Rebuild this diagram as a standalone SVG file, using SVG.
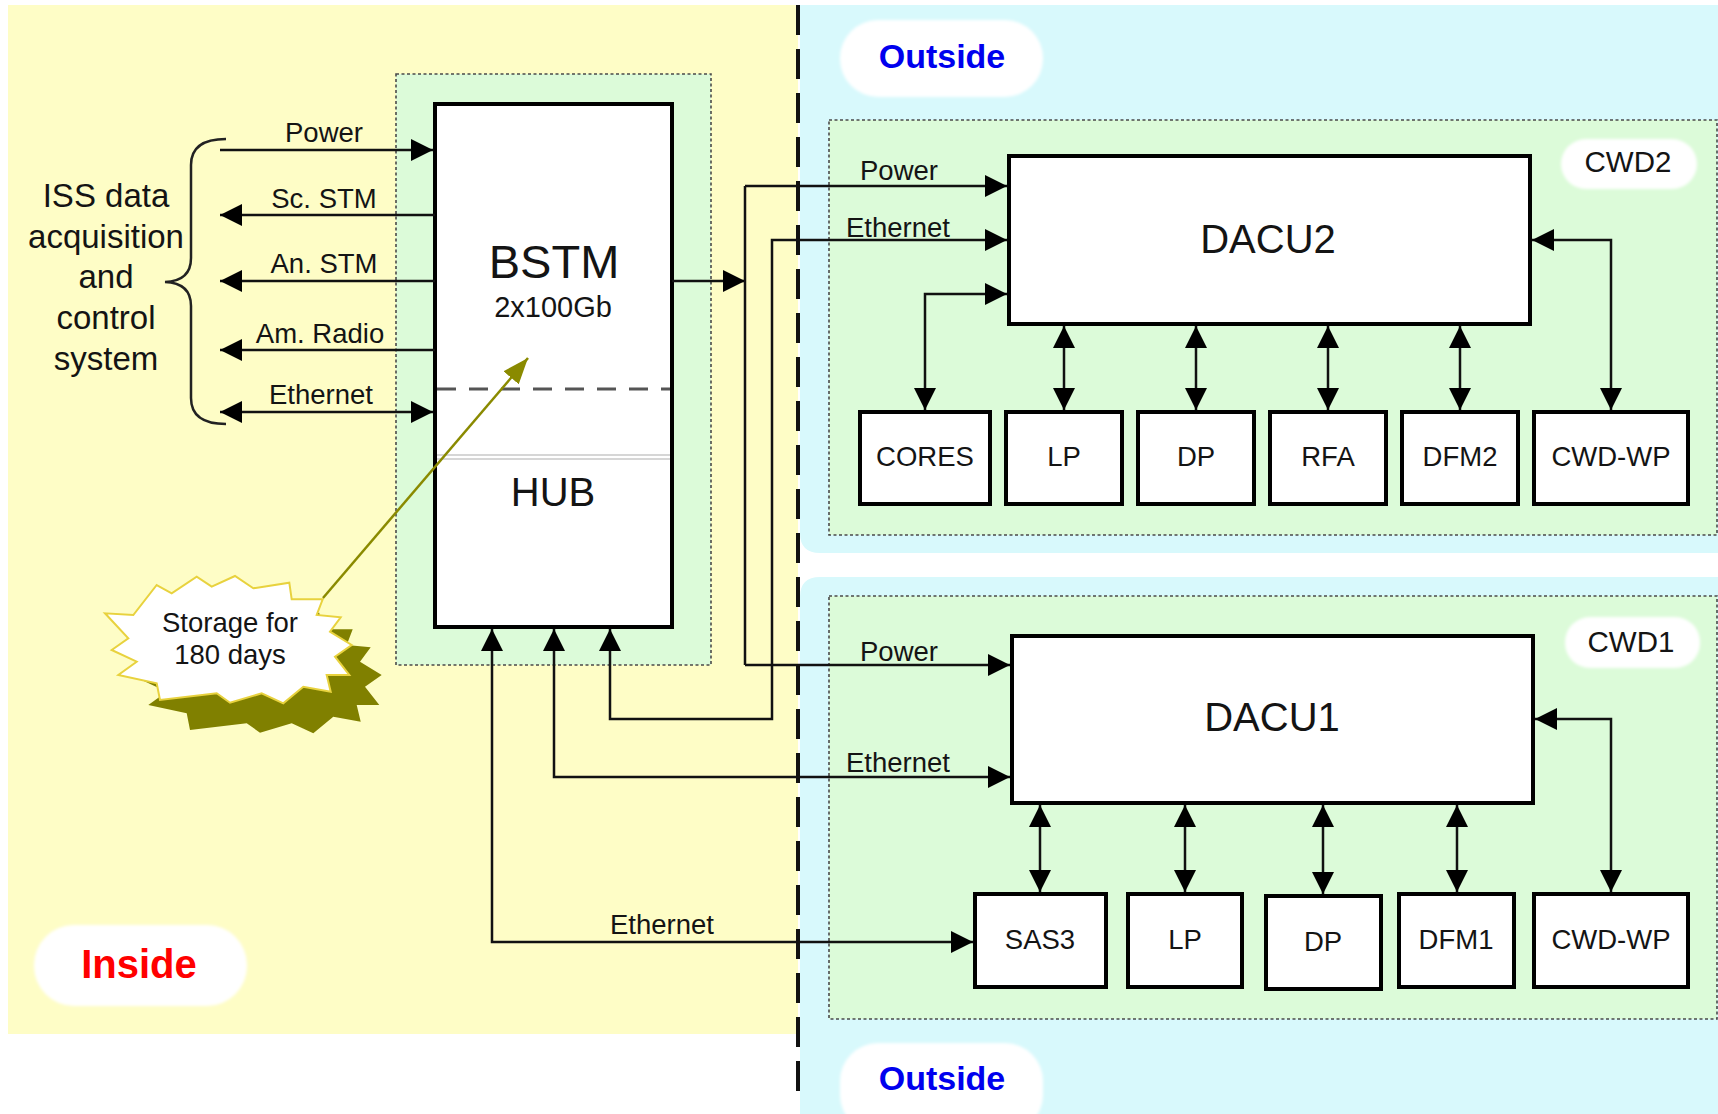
<svg xmlns="http://www.w3.org/2000/svg" width="1718" height="1114" viewBox="0 0 1718 1114">
  <defs>
    <style>
      text { font-family: "Liberation Sans", Arial, sans-serif; fill: #141414; }
      .lbl { font-size: 27.5px; text-anchor: middle; }
      .big { font-size: 40px; text-anchor: middle; }
      .zone { fill: #fff; filter: url(#soft); }
      .dot { fill: #dcfbd9; stroke: #4a4a4a; stroke-width: 1.6; stroke-dasharray: 3 2.5; }
      .box { fill: #fff; stroke: #000; stroke-width: 4; }
      .wire { fill: none; stroke: #111; stroke-width: 2.5; }
      .one { marker-end: url(#ah); }
      .two { marker-start: url(#ah); marker-end: url(#ah); }
    </style>
    <marker id="ah" viewBox="0 0 22 22" refX="22" refY="11" markerWidth="22" markerHeight="22" markerUnits="userSpaceOnUse" orient="auto-start-reverse">
      <path d="M0,0 L22,11 L0,22 z" fill="#000"/>
    </marker>
    <marker id="oah" viewBox="0 0 26 20" refX="26" refY="10" markerWidth="26" markerHeight="20" markerUnits="userSpaceOnUse" orient="auto">
      <path d="M0,0 L26,10 L0,20 z" fill="#8a8a00"/>
    </marker>
    <filter id="soft" x="-10%" y="-20%" width="120%" height="140%">
      <feGaussianBlur stdDeviation="1.5"/>
    </filter>
    <polygon id="burst" points="156.7,585 171.7,593.3 196.7,576.7 211.7,586.7 235,576 253.3,588.3 289.3,582.7 291.7,599.3 322.7,599.3 316.7,615 340.7,617.3 330,631.7 351.7,645 335,656.7 349.3,675 326.7,675 330.7,691.7 303.3,686.7 283.3,703.3 261.7,693.3 230,702.7 216.7,693.3 160,700 156.7,683.3 118.3,675 136.7,661.7 111.7,650 128.3,638.3 105,613.3 133.3,615"/>
  </defs>

  <!-- background areas -->
  <rect x="0" y="0" width="1718" height="1114" fill="#fff"/>
  <rect x="8" y="5" width="790" height="1029" fill="#fefdc6"/>
  <path d="M800,5 H1718 V553 H820 Q800,553 800,533 Z" fill="#d8f9fc"/>
  <path d="M820,577 H1718 V1114 H800 V597 Q800,577 820,577 Z" fill="#d8f9fc"/>
  <line x1="798" y1="5" x2="798" y2="1092" stroke="#111" stroke-width="4" stroke-dasharray="30 14"/>

  <!-- area labels -->
  <g id="label-outside-top">
    <rect class="zone" x="840" y="20" width="203" height="77" rx="38"/>
    <text x="942" y="68" font-size="34" font-weight="bold" text-anchor="middle" style="fill:#0000ee">Outside</text>
  </g>
  <g id="label-outside-bottom">
    <rect class="zone" x="840" y="1043" width="203" height="90" rx="38"/>
    <text x="942" y="1090" font-size="34" font-weight="bold" text-anchor="middle" style="fill:#0000ee">Outside</text>
  </g>
  <g id="label-inside">
    <rect class="zone" x="34" y="925" width="213" height="81" rx="40"/>
    <text x="139" y="978" font-size="40" font-weight="bold" text-anchor="middle" style="fill:#ff0000">Inside</text>
  </g>

  <!-- ISS side -->
  <g id="iss">
    <path d="M226,139 Q191,139 191,165 L191,258 Q191,281 165,282 Q191,283 191,306 L191,398 Q191,424 226,424" fill="none" stroke="#222" stroke-width="2.5"/>
    <text class="lbl" x="106" y="207" font-size="33" style="font-size:33px">ISS data</text>
    <text class="lbl" x="106" y="247.5" style="font-size:33px">acquisition</text>
    <text class="lbl" x="106" y="288" style="font-size:33px">and</text>
    <text class="lbl" x="106" y="329" style="font-size:33px">control</text>
    <text class="lbl" x="106" y="370" style="font-size:33px">system</text>
  </g>

  <!-- BSTM group -->
  <g id="bstm">
    <rect class="dot" x="396" y="74" width="315" height="591"/>
    <rect class="box" x="435" y="104" width="237" height="523"/>
    <line x1="437" y1="389" x2="670" y2="389" stroke="#555" stroke-width="3" stroke-dasharray="19 13"/>
    <line x1="437" y1="455" x2="670" y2="455" stroke="#c8c8c8" stroke-width="1.5"/>
    <line x1="437" y1="459" x2="670" y2="459" stroke="#c8c8c8" stroke-width="1.5"/>
    <text x="554" y="278" font-size="47" text-anchor="middle">BSTM</text>
    <text x="553" y="317" font-size="29" text-anchor="middle">2x100Gb</text>
    <text class="big" x="553" y="506">HUB</text>
  </g>

  <!-- storage note -->
  <g id="storage-note">
    <use href="#burst" transform="translate(30,30)" fill="#808000"/>
    <use href="#burst" fill="#fff" stroke="#e8d23e" stroke-width="2"/>
    <text class="lbl" x="230" y="632">Storage for</text>
    <text class="lbl" x="230" y="664">180 days</text>
  </g>

  <!-- CWD2 group -->
  <g id="cwd2">
    <rect class="dot" x="829" y="120" width="888" height="415"/>
    <rect class="zone" x="1561" y="139" width="136" height="50" rx="25"/>
    <text x="1628" y="172" font-size="29.5" text-anchor="middle">CWD2</text>
  </g>
  <g id="dacu2">
    <rect class="box" x="1009" y="156" width="521" height="168"/>
    <text class="big" x="1268" y="253">DACU2</text>
  </g>
  <g id="cores"><rect class="box" x="860" y="412" width="130" height="92"/><text class="lbl" x="925" y="466">CORES</text></g>
  <g id="lp2"><rect class="box" x="1006" y="412" width="116" height="92"/><text class="lbl" x="1064" y="466">LP</text></g>
  <g id="dp2"><rect class="box" x="1138" y="412" width="116" height="92"/><text class="lbl" x="1196" y="466">DP</text></g>
  <g id="rfa"><rect class="box" x="1270" y="412" width="116" height="92"/><text class="lbl" x="1328" y="466">RFA</text></g>
  <g id="dfm2"><rect class="box" x="1402" y="412" width="116" height="92"/><text class="lbl" x="1460" y="466">DFM2</text></g>
  <g id="cwdwp2"><rect class="box" x="1534" y="412" width="154" height="92"/><text class="lbl" x="1611" y="466">CWD-WP</text></g>

  <!-- CWD1 group -->
  <g id="cwd1">
    <rect class="dot" x="829" y="596" width="888" height="423"/>
    <rect class="zone" x="1565" y="617" width="135" height="51" rx="25"/>
    <text x="1631" y="652" font-size="29.5" text-anchor="middle">CWD1</text>
  </g>
  <g id="dacu1">
    <rect class="box" x="1012" y="636" width="521" height="167"/>
    <text class="big" x="1272" y="731">DACU1</text>
  </g>
  <g id="sas3"><rect class="box" x="975" y="894" width="131" height="93"/><text class="lbl" x="1040" y="949">SAS3</text></g>
  <g id="lp1"><rect class="box" x="1128" y="894" width="114" height="93"/><text class="lbl" x="1185" y="949">LP</text></g>
  <g id="dp1"><rect class="box" x="1266" y="896" width="115" height="93"/><text class="lbl" x="1323" y="951">DP</text></g>
  <g id="dfm1"><rect class="box" x="1399" y="894" width="115" height="93"/><text class="lbl" x="1456" y="949">DFM1</text></g>
  <g id="cwdwp1"><rect class="box" x="1534" y="894" width="154" height="93"/><text class="lbl" x="1611" y="949">CWD-WP</text></g>

  <!-- connectors -->
  <g id="connectors">
    <path class="wire one" d="M220,150 H433"/>
    <path class="wire one" d="M435,215 H220"/>
    <path class="wire one" d="M435,281 H220"/>
    <path class="wire one" d="M435,350 H220"/>
    <path class="wire two" d="M220,412 H433"/>

    <path class="wire one" d="M672,281 H745"/>
    <path class="wire" d="M745,186 V665"/>
    <path class="wire one" d="M745,186 H1007"/>
    <path class="wire one" d="M745,665 H1010"/>

    <path class="wire two" d="M610,629 V719 H772 V240 H1007"/>
    <path class="wire two" d="M554,629 V777 H1010"/>
    <path class="wire two" d="M492,629 V942 H973"/>

    <path class="wire two" d="M1007,294 H925 V410"/>
    <path class="wire two" d="M1064,326 V410"/>
    <path class="wire two" d="M1196,326 V410"/>
    <path class="wire two" d="M1328,326 V410"/>
    <path class="wire two" d="M1460,326 V410"/>
    <path class="wire two" d="M1532,240 H1611 V410"/>

    <path class="wire two" d="M1040,805 V892"/>
    <path class="wire two" d="M1185,805 V892"/>
    <path class="wire two" d="M1323,805 V894"/>
    <path class="wire two" d="M1457,805 V892"/>
    <path class="wire two" d="M1535,719 H1611 V892"/>

    <path d="M323,598 L528,358" fill="none" stroke="#8a8a00" stroke-width="2.5" marker-end="url(#oah)"/>
  </g>

  <!-- connector labels -->
  <g id="connector-labels">
    <text class="lbl" x="324" y="142">Power</text>
    <text class="lbl" x="324" y="208">Sc. STM</text>
    <text class="lbl" x="324" y="273">An. STM</text>
    <text class="lbl" x="320" y="343">Am. Radio</text>
    <text class="lbl" x="321" y="404">Ethernet</text>
    <text class="lbl" x="899" y="180">Power</text>
    <text class="lbl" x="898" y="237">Ethernet</text>
    <text class="lbl" x="899" y="661">Power</text>
    <text class="lbl" x="898" y="772">Ethernet</text>
    <text class="lbl" x="662" y="934">Ethernet</text>
  </g>
</svg>
